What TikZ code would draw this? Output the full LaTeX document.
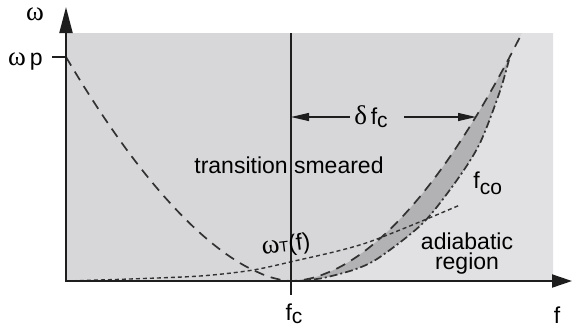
\documentclass[tikz,border=0pt]{standalone}
\usepackage{fontspec}
\setmainfont{Liberation Sans}
\newfontfamily\grk{Liberation Serif}
\usetikzlibrary{arrows.meta}
\definecolor{regiongray}{RGB}{215,215,218}
\definecolor{adiabgray}{RGB}{225,225,227}
\definecolor{bandgray}{RGB}{178,178,180}
\definecolor{curvegray}{RGB}{50,50,50}
\definecolor{axisblack}{RGB}{30,30,30}
\newcommand\lowsub[2][1.5pt]{\raisebox{-#1}{\fontsize{10.5}{12}\selectfont #2}}
\newcommand\gk[1]{{\grk\fontsize{13.5}{14}\selectfont #1}}

\begin{document}
\begin{tikzpicture}[x=0.5pt,y=0.5pt,font=\fontsize{11.5}{10}\selectfont,
    gapline/.style={curvegray,line width=0.85pt,dash pattern=on 5pt off 3.5pt},
    coline/.style={curvegray,line width=0.85pt,dash pattern=on 4pt off 1.5pt on 1pt off 1.5pt},
    tline/.style={curvegray,line width=0.7pt,dash pattern=on 2pt off 1.5pt}]
    \useasboundingbox (-66,-48) rectangle (506,281);
    % regions
    \fill[regiongray] (0,0) rectangle (487,248);
    \fill[adiabgray] (487,0) -- plot[smooth] coordinates {(232,0) (257,3) (290,12) (314,24) (357,58) (391,101) (414,138) (434,190) (444,225)}
        -- plot[domain=444:456,samples=5] (\x,{248*((\x-225)/231)^1.85}) -- (487,248) -- cycle;
    \fill[bandgray] plot[domain=225.5:444,samples=40] (\x,{248*((\x-225)/231)^1.85})
        -- plot[smooth] coordinates {(444,225) (434,190) (414,138) (391,101) (357,58) (314,24) (290,12) (257,3) (232,0)} -- cycle;
    % curves
    \draw[gapline] plot[domain=0:224.5,samples=50] (\x,{224*((225-\x)/225)^1.7})
        -- plot[domain=225.5:456,samples=50] (\x,{248*((\x-225)/231)^1.85});
    \draw[coline] plot[smooth] coordinates {(232,0) (257,3) (290,12) (314,24) (357,58) (391,101) (414,138) (434,190) (444,225)};
    \draw[tline] plot[smooth] coordinates {(0,0) (64,2) (134,5) (184,10.5) (224,19) (300,38) (394,76)};
    % axes
    \coordinate (origin) at (0,0);
    \coordinate (ytip) at (0,274);
    \coordinate (xtip) at (506,0);
    \coordinate (wp) at (0,224);
    \coordinate (wptick) at (-14,224);
    \coordinate (fctop) at (225,248);
    \coordinate (fcbot) at (225,-14);
    \draw[axisblack,line width=1pt,{Triangle[length=13pt,width=6.5pt]}-{Triangle[length=10pt,width=6.5pt]}] (ytip) -- (origin) -- (xtip);
    \draw[axisblack,line width=0.8pt] (wptick) -- (wp);
    \draw[axisblack,line width=0.6pt] (fctop) -- (fcbot);
    % delta f_c
    \coordinate (dleft) at (225,164);
    \coordinate (dtip) at (410,164);
    \node[inner xsep=2pt] (dfc) at (305,164) {\gk{δ}\,f\lowsub{c}};
    \draw[axisblack,line width=0.6pt,-{Triangle[length=9pt,width=4pt]}] (dfc.west) -- (dleft);
    \draw[axisblack,line width=0.6pt,-{Triangle[length=9pt,width=4pt]}] ([xshift=6pt]dfc.east) -- (dtip);
    % labels
    \node[anchor=base] (wlab) at (-31,261) {\gk{ω}};
    \node[anchor=base east,inner sep=0pt] (wplab) at (-23,216) {\gk{ω}\,p};
    \node[anchor=base] (flab) at (491,-42) {f};
    \node[anchor=base] (fclab) at (228,-39) {f\lowsub{c}};
    \node[anchor=base] (smear) at (223,108) {transition smeared};
    \node[align=center] (adiab) at (401,27) {adiabatic\\region};
    \node[anchor=base west,inner sep=0pt] (fco) at (407,93) {f\lowsub[3pt]{co}};
    \node[rotate=7] (wT) at (220,35) {\gk{ω}{\fontsize{7.5}{8}\selectfont T}(f)};
\end{tikzpicture}
\end{document}
